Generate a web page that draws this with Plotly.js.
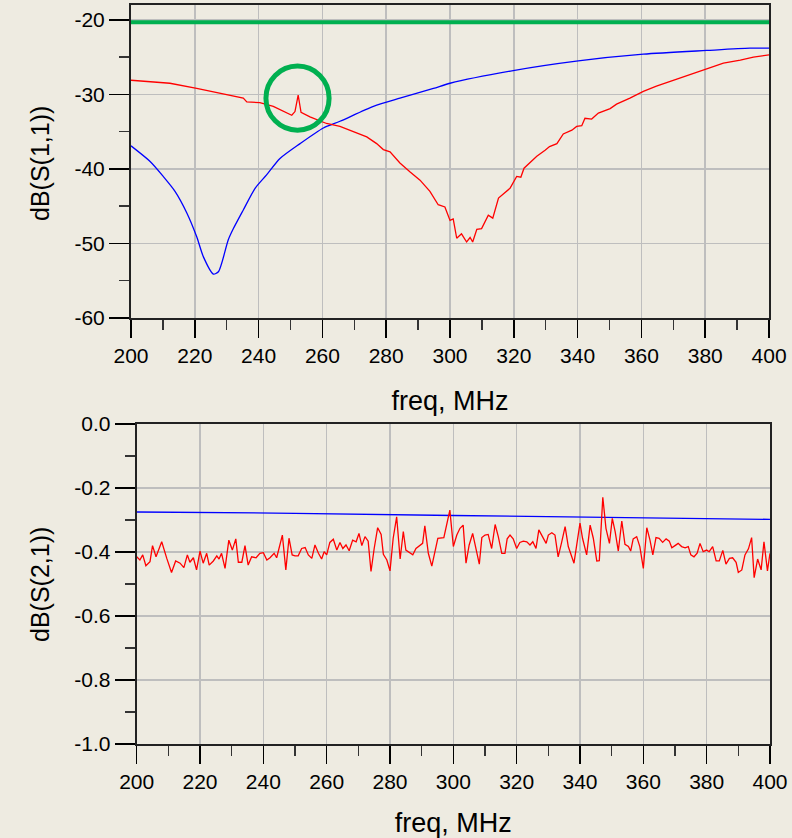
<!DOCTYPE html>
<html>
<head>
<meta charset="utf-8">
<script src="https://cdn.plot.ly/plotly-3.0.1.min.js"></script>
<style>html,body{margin:0;padding:0;background:#EEEBE1;}#chart{width:792px;height:838px;}</style>
</head>
<body>
<div id="chart"></div>
<script>
// ---- S11 (top) ----
const s11SpecFreq = [200, 400];
const s11SpecDb = [-20.3, -20.3];

const s11BlueFreq = [200,206,210.1,213.8,217.5,220.6,222.7,225.8,227.4,230.5,232.1,235.2,238.9,242.5,246.7,253,260.3,265.5,276,284.3,294.8,300,319.8,340.2,360.6,380.5,394,400];
const s11BlueDb = [-36.9,-39.0,-41.0,-43.0,-45.9,-49.1,-51.8,-54.1,-53.8,-49.5,-48.0,-45.5,-42.6,-40.8,-38.6,-36.6,-34.5,-33.6,-31.6,-30.5,-29.2,-28.5,-26.8,-25.5,-24.6,-24.1,-23.8,-23.8];

const s11RedFreq = [200,206,212.2,220.6,227.9,235.2,236.3,240.4,244.6,247.7,250.4,251.4,252.4,253.3,256.1,261.3,265.5,269.7,273.9,277,279.1,281.2,284.3,287.5,290.6,293.7,296.3,298.4,300,301,302.1,303.6,305.2,306.3,307.1,308.4,309.9,312,313.4,315.2,318.8,320.9,322.2,323.2,327.2,329.8,331.2,333.5,335.5,338.2,339.7,341.3,342.3,344.4,346.5,350.2,352.2,356.4,360.6,364.7,370,375.2,380.5,385.7,391,395.1,400];
const s11RedDb = [-28.1,-28.3,-28.5,-29.2,-29.8,-30.5,-31.0,-31.1,-31.6,-32.3,-32.8,-32.3,-30.1,-32.4,-33.0,-33.9,-34.3,-35.0,-35.7,-36.6,-37.4,-37.7,-39.2,-40.4,-41.5,-43.0,-44.8,-45.1,-46.9,-46.7,-49.3,-48.7,-49.8,-49.2,-49.8,-48.1,-48.0,-46.2,-46.6,-43.9,-42.6,-41.0,-41.1,-39.9,-38.3,-37.5,-37.0,-36.6,-35.3,-34.8,-34.3,-34.2,-33.2,-33.3,-32.5,-31.9,-31.3,-30.5,-29.6,-28.9,-28.1,-27.4,-26.6,-25.8,-25.4,-25.0,-24.7];

// highlight circle (data coordinates)
const circleX = [242.3, 262.1];
const circleY = [-34.8, -26.2];

// ---- S21 (bottom) ----
const s21BlueFreq = [200, 250, 300, 350, 400];
const s21BlueDb = [-0.275, -0.279, -0.286, -0.293, -0.298];

const s21RedFreq = [200.0,201.0,201.9,202.9,204.2,205.0,206.1,207.9,209.5,211.0,212.3,213.7,214.9,216.0,216.8,217.9,218.9,220.0,221.0,222.1,222.9,224.2,225.3,226.0,226.8,227.9,229.1,230.2,231.3,232.1,233.2,234.2,235.2,236.3,237.7,238.9,240.0,241.1,242.1,243.4,244.2,245.0,246.0,247.1,248.1,249.1,250.0,
251.0,252.1,253.2,254.2,255.3,256.3,257.4,258.4,259.2,260.0,261.0,262.1,263.2,264.2,265.1,266.1,267.1,268.2,269.3,270.2,271.1,272.1,273.1,274.0,275.0,276.1,277.2,277.9,279.0,280.0,281.0,282.1,283.2,284.2,285.0,286.1,287.2,288.2,289.5,290.3,291.0,292.1,293.2,294.2,295.1,297.0,298.9,300.0,
301.1,302.1,303.1,304.0,305.0,306.1,307.2,308.2,309.0,310.0,311.0,312.1,313.2,314.2,315.3,316.3,317.0,317.9,318.9,320.0,321.0,322.1,323.2,324.2,325.1,326.1,327.0,328.2,329.3,330.0,331.1,332.1,333.1,334.2,335.3,336.3,338.1,340.0,340.8,342.1,343.2,344.2,345.3,346.1,347.2,348.2,349.3,350.2,351.1,
352.1,353.2,354.2,355.3,356.0,356.8,357.9,358.9,360.0,361.1,362.1,363.0,364.0,365.0,366.1,367.2,368.2,369.0,370.0,371.0,372.1,373.2,374.2,375.0,376.0,377.0,377.9,378.9,380.0,380.8,381.9,383.0,384.0,385.1,386.1,387.2,388.2,389.3,390.0,391.1,392.1,393.2,394.2,395.0,396.1,397.2,398.1,399.2,400.0];
const s21RedDb = [-0.415,-0.425,-0.409,-0.443,-0.430,-0.380,-0.415,-0.368,-0.420,-0.464,-0.428,-0.435,-0.449,-0.409,-0.432,-0.418,-0.456,-0.397,-0.435,-0.404,-0.441,-0.428,-0.412,-0.422,-0.404,-0.451,-0.363,-0.394,-0.359,-0.432,-0.432,-0.380,-0.441,-0.415,-0.418,-0.404,-0.402,-0.425,-0.418,-0.404,-0.418,-0.389,-0.347,-0.456,-0.357,-0.409,-0.412,
-0.412,-0.389,-0.386,-0.409,-0.420,-0.378,-0.404,-0.422,-0.399,-0.409,-0.370,-0.360,-0.394,-0.370,-0.389,-0.378,-0.396,-0.363,-0.368,-0.342,-0.380,-0.352,-0.366,-0.461,-0.389,-0.324,-0.345,-0.407,-0.425,-0.459,-0.357,-0.290,-0.422,-0.336,-0.394,-0.401,-0.409,-0.389,-0.378,-0.373,-0.318,-0.404,-0.444,-0.399,-0.357,-0.355,-0.269,-0.383,
-0.347,-0.326,-0.316,-0.435,-0.378,-0.342,-0.389,-0.438,-0.355,-0.347,-0.345,-0.389,-0.314,-0.352,-0.404,-0.404,-0.359,-0.347,-0.359,-0.389,-0.370,-0.366,-0.368,-0.378,-0.368,-0.389,-0.331,-0.352,-0.373,-0.347,-0.340,-0.347,-0.415,-0.370,-0.321,-0.383,-0.435,-0.310,-0.357,-0.409,-0.316,-0.357,-0.428,-0.427,-0.229,-0.326,-0.373,-0.295,-0.336,
-0.397,-0.303,-0.376,-0.383,-0.397,-0.359,-0.352,-0.383,-0.451,-0.324,-0.363,-0.409,-0.355,-0.357,-0.370,-0.359,-0.366,-0.387,-0.380,-0.373,-0.383,-0.387,-0.383,-0.409,-0.415,-0.404,-0.373,-0.399,-0.394,-0.399,-0.383,-0.428,-0.428,-0.395,-0.438,-0.420,-0.418,-0.432,-0.464,-0.456,-0.409,-0.390,-0.355,-0.480,-0.422,-0.456,-0.368,-0.459,-0.404];

// tick labels and titles
const freqTicks = [200,220,240,260,280,300,320,340,360,380,400];
const freqTickText = ['200','220','240','260','280','300','320','340','360','380','400'];
const s11Ticks = [-60,-50,-40,-30,-20];
const s11TickText = ['-60','-50','-40','-30','-20'];
const s21Ticks = [-1.0,-0.8,-0.6,-0.4,-0.2,0.0];
const s21TickText = ['-1.0','-0.8','-0.6','-0.4','-0.2','0.0'];
const xTitle = 'freq, MHz';
const yTitles = ['dB(S(1,1))', 'dB(S(2,1))'];

const BG = '#EEEBE1';
const GRID = '#BEBEBE';
const FONT = 'Liberation Sans, Arial, sans-serif';

function xAxis(domain, anchor) {
  return {
    domain: domain, anchor: anchor, range: [200, 400],
    tickmode: 'array', tickvals: freqTicks, ticktext: freqTickText,
    ticks: 'outside', ticklen: 18, tickwidth: 1.5, tickcolor: '#000',
    minor: {dtick: 10, ticks: 'outside', ticklen: 10, tickwidth: 1.5, tickcolor: '#333', showgrid: false},
    showgrid: true, gridcolor: GRID, gridwidth: 1.5,
    showline: true, linecolor: '#222', linewidth: 2, mirror: true,
    zeroline: false, fixedrange: true,
    tickfont: {family: FONT, size: 21, color: '#000'},
    title: {text: xTitle, font: {family: FONT, size: 27, color: '#000'}}
  };
}
function yAxis(domain, anchor, range, tv, tt, minorD) {
  return {
    domain: domain, anchor: anchor, range: range,
    tickmode: 'array', tickvals: tv, ticktext: tt,
    ticks: 'outside', ticklen: 20, tickwidth: 1.5, tickcolor: '#000',
    minor: {dtick: minorD, ticks: 'outside', ticklen: 10, tickwidth: 1.5, tickcolor: '#333', showgrid: false},
    showgrid: true, gridcolor: GRID, gridwidth: 1.5,
    showline: true, linecolor: '#222', linewidth: 2, mirror: true,
    zeroline: false, fixedrange: true,
    tickfont: {family: FONT, size: 21, color: '#000'}
  };
}

const traces = [
  {x: s11SpecFreq, y: s11SpecDb, xaxis: 'x', yaxis: 'y', mode: 'lines', line: {color: '#00B050', width: 4}, hoverinfo: 'skip'},
  {x: s11BlueFreq, y: s11BlueDb, xaxis: 'x', yaxis: 'y', mode: 'lines', line: {color: '#0000FF', width: 1.3, shape: 'spline', smoothing: 0.7}},
  {x: s11RedFreq, y: s11RedDb, xaxis: 'x', yaxis: 'y', mode: 'lines', line: {color: '#FF0000', width: 1.3}},
  {x: s21BlueFreq, y: s21BlueDb, xaxis: 'x2', yaxis: 'y2', mode: 'lines', line: {color: '#0000FF', width: 1.3}},
  {x: s21RedFreq, y: s21RedDb, xaxis: 'x2', yaxis: 'y2', mode: 'lines', line: {color: '#FF0000', width: 1.3}}
];

const layout = {
  width: 792, height: 838,
  margin: {l: 0, r: 0, t: 0, b: 0},
  paper_bgcolor: BG, plot_bgcolor: BG,
  showlegend: false,
  font: {family: FONT, color: '#000'},
  xaxis: xAxis([0.1654, 0.9710], 'y'),
  yaxis: yAxis([0.62053, 0.99403], 'x', [-60, -18], s11Ticks, s11TickText, 5),
  xaxis2: xAxis([0.1726, 0.9722], 'y2'),
  yaxis2: yAxis([0.11217, 0.49403], 'x2', [-1, 0], s21Ticks, s21TickText, 0.1),
  annotations: [
    {text: yTitles[0], xref: 'paper', yref: 'paper', x: 40/792, y: 1 - 164/838, textangle: -90,
     showarrow: false, xanchor: 'center', yanchor: 'middle', font: {family: FONT, size: 25, color: '#000'}},
    {text: yTitles[1], xref: 'paper', yref: 'paper', x: 40/792, y: 1 - 585/838, textangle: -90,
     showarrow: false, xanchor: 'center', yanchor: 'middle', font: {family: FONT, size: 25, color: '#000'}}
  ],
  shapes: [{
    type: 'circle', xref: 'x', yref: 'y',
    x0: circleX[0], x1: circleX[1], y0: circleY[0], y1: circleY[1],
    line: {color: '#00B050', width: 5}, layer: 'above'
  }]
};

Plotly.newPlot('chart', traces, layout, {displayModeBar: false, staticPlot: true});
</script>
</body>
</html>
